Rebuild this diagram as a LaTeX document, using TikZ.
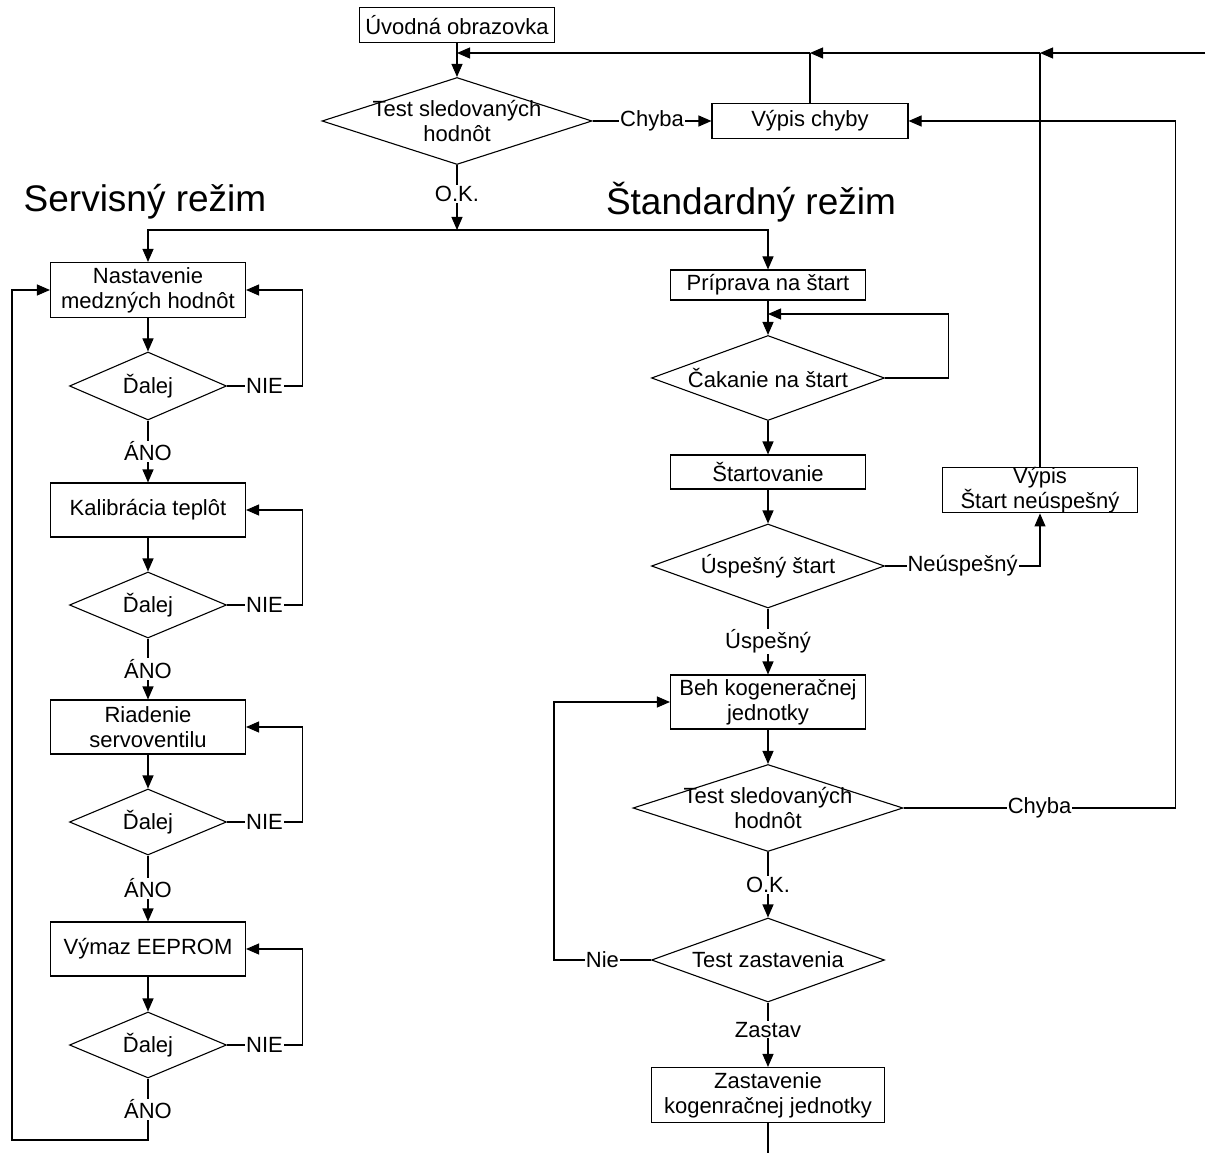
\documentclass[tikz,border=0pt]{standalone}
\usepackage{fontspec}
\setmainfont{Liberation Sans}
\usetikzlibrary{shapes.geometric,arrows.meta}
\newcommand{\fsn}{\fontsize{22}{25}\selectfont}
\newcommand{\fsh}{\fontsize{37}{40}\selectfont}
\begin{document}
\begin{tikzpicture}[x=1pt,y=-1pt,
  every node/.style={font=\fsn},
  box/.style={draw,rectangle,inner sep=0pt,align=center,line width=1.1pt,minimum width=195pt},
  dec/.style={draw,diamond,inner sep=0pt,line width=1.1pt},
  lbl/.style={fill=white,inner sep=1pt},
  arr/.style={-{Triangle[length=13pt,width=11pt]},line width=1.1pt},
  ln/.style={line width=1.1pt},
  head/.style={font=\fsh}]
\useasboundingbox (0,0) rectangle (1213,1155);
% top
\node[box,minimum height=35pt] (intro) at (457,25) {Úvodná obrazovka};
\node[dec,minimum width=270pt,minimum height=87pt,label={[align=center]center:Test sledovaných\\hodnôt}] (t1) at (457,121) {};
\node[box,minimum width=196pt,minimum height=35pt] (err) at (810,121) {Výpis chyby};
\node[head] (hs) at (145,202) {Servisný režim};
\node[head] (hst) at (751,202) {Štandardný režim};
% left column
\node[box,minimum height=55pt] (b1) at (148,290) {Nastavenie\\medzných hodnôt};
\node[dec,minimum width=157pt,minimum height=68pt,label={center:Ďalej}] (d1) at (148,386) {};
\node[box,minimum height=54pt] (b2) at (148,510) {Kalibrácia teplôt};
\node[dec,minimum width=157pt,minimum height=66pt,label={center:Ďalej}] (d2) at (148,605) {};
\node[box,minimum height=54pt] (b3) at (148,727) {Riadenie\\servoventilu};
\node[dec,minimum width=157pt,minimum height=66pt,label={center:Ďalej}] (d3) at (148,822) {};
\node[box,minimum height=54pt] (b4) at (148,949) {Výmaz EEPROM};
\node[dec,minimum width=157pt,minimum height=66pt,label={center:Ďalej}] (d4) at (148,1045) {};
% right column
\node[box,minimum height=30pt] (p1) at (768,285) {Príprava na štart};
\node[dec,minimum width=233pt,minimum height=85pt,label={center:Čakanie na štart}] (wait) at (768,378) {};
\node[box,minimum height=34pt] (start) at (768,472) {Štartovanie};
\node[box,minimum height=41pt] (fail) at (1040,490) {Výpis\\Štart neúspešný};
\node[dec,minimum width=233pt,minimum height=84pt,label={center:Úspešný štart}] (succ) at (768,566) {};
\node[box,minimum height=54pt] (run) at (768,702) {Beh kogeneračnej\\jednotky};
\node[dec,minimum width=270pt,minimum height=87pt,label={[align=center]center:Test sledovaných\\hodnôt}] (t2) at (768,808) {};
\node[dec,minimum width=233pt,minimum height=84pt,label={center:Test zastavenia}] (stop) at (768,960) {};
\node[box,minimum width=233pt,minimum height=55pt] (halt) at (768,1095) {Zastavenie\\kogenračnej jednotky};
% coordinates
\coordinate (j1) at (457,53);
\coordinate (j2) at (810,53);
\coordinate (j3) at (1040,53);
\coordinate (rin) at (1205,53);
\coordinate (split) at (457,230);
\coordinate (wj) at (768,314);
\coordinate (lret) at (12,1140);
\coordinate (hend) at (768,1153);
% top connectors
\draw[arr] (intro.south) -- (t1.north);
\draw[arr] (rin) -- (j3);
\draw[arr] (j3) -- (j2);
\draw[arr] (j2) -- (j1);
\draw[ln] (err.north) -- (j2);
\draw[ln] (fail.north) -- (j3);
\draw[arr] (t1.east) -- node[lbl]{Chyba} (err.west);
\draw[arr] (t1.south) -- node[lbl,pos=0.45]{O.K.} (split);
\draw[arr] (split) -| (b1.north);
\draw[arr] (split) -| (p1.north);
% left connectors
\draw[arr] (b1.south) -- (d1.north);
\draw[arr] (d1.east) -- node[lbl]{NIE} ++(75,0) |- (b1.east);
\draw[arr] (d1.south) -- node[lbl]{ÁNO} (b2.north);
\draw[arr] (b2.south) -- (d2.north);
\draw[arr] (d2.east) -- node[lbl]{NIE} ++(75,0) |- (b2.east);
\draw[arr] (d2.south) -- node[lbl]{ÁNO} (b3.north);
\draw[arr] (b3.south) -- (d3.north);
\draw[arr] (d3.east) -- node[lbl]{NIE} ++(75,0) |- (b3.east);
\draw[arr] (d3.south) -- node[lbl]{ÁNO} (b4.north);
\draw[arr] (b4.south) -- (d4.north);
\draw[arr] (d4.east) -- node[lbl]{NIE} ++(75,0) |- (b4.east);
\draw[arr] (d4.south) -- node[lbl]{ÁNO} (d4.south |- lret) -- (lret) |- (b1.west);
% right connectors
\draw[arr] (p1.south) -- (wait.north);
\draw[arr] (wait.east) -- ++(63,0) |- (wj);
\draw[arr] (wait.south) -- (start.north);
\draw[arr] (start.south) -- (succ.north);
\draw[arr] (succ.east) -- node[lbl]{Neúspešný} (fail.south |- succ.east) -- (fail.south);
\draw[arr] (succ.south) -- node[lbl]{Úspešný} (run.north);
\draw[arr] (run.south) -- (t2.north);
\draw[arr] (t2.east) -- node[lbl]{Chyba} ++(272,0) |- (err.east);
\draw[arr] (t2.south) -- node[lbl]{O.K.} (stop.north);
\draw[arr] (stop.west) -- node[lbl]{Nie} ++(-97,0) |- (run.west);
\draw[arr] (stop.south) -- node[lbl,pos=0.42]{Zastav} (halt.north);
\draw[ln] (halt.south) -- (hend);
\end{tikzpicture}
\end{document}
